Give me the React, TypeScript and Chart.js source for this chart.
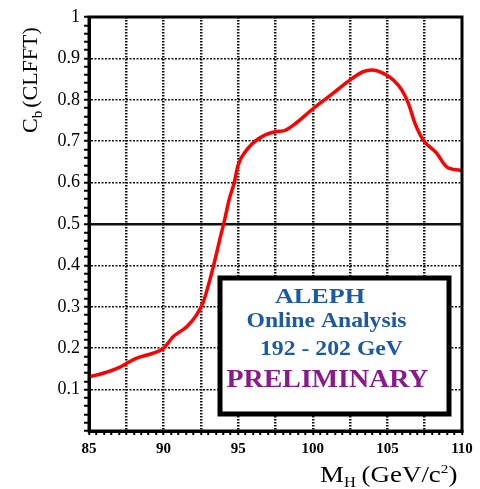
import React, { useEffect, useRef } from 'react';
import { Chart, registerables } from 'chart.js';

Chart.register(...registerables);

// Higgs mass hypothesis (GeV/c^2)
const massGeV = [85, 86, 87, 87.5, 88.2, 89.3, 90, 90.65, 91.55, 92.2, 92.66, 93.1, 93.44, 93.78, 94.12, 94.4, 94.72, 95.0, 95.57, 96.24, 97.47, 98.03, 98.7, 100.03, 101.37, 102.5, 103.38, 103.95, 104.73, 105.4, 105.96, 106.4, 106.85, 107.4, 108.3, 108.97, 109.87, 110];
// C_b (CLFFT)
const clfft = [0.131, 0.14, 0.153, 0.163, 0.176, 0.188, 0.2, 0.228, 0.252, 0.28, 0.312, 0.365, 0.413, 0.465, 0.515, 0.56, 0.598, 0.643, 0.679, 0.703, 0.723, 0.725, 0.739, 0.779, 0.816, 0.848, 0.868, 0.872, 0.864, 0.848, 0.824, 0.792, 0.743, 0.703, 0.671, 0.638, 0.63, 0.629];

const xMin = 85;
const xMax = 110;
const xLabelStep = 5;
const xGridStep = 2.5;
const xMinorStep = 0.5;
const yMin = 0;
const yMax = 1;
const yLabelStep = 0.1;
const yMinorStep = 0.02;
const solidLineValue = 0.5;

const boxLines = ['ALEPH', 'Online Analysis', '192 - 202 GeV', 'PRELIMINARY'];

const SERIF = '"Liberation Serif", "Times New Roman", "DejaVu Serif", serif';

const isMultiple = (v: number, step: number) => Math.abs(v / step - Math.round(v / step)) < 1e-6;

const decorPlugin = {
  id: 'decor',
  afterDatasetsDraw(chart: any) {
    const { ctx, chartArea: a } = chart;
    ctx.save();
    // Annotation box
    const bx = 220, by = 278, bw = 229, bh = 136;
    ctx.fillStyle = '#ffffff';
    ctx.fillRect(bx, by, bw, bh);
    ctx.strokeStyle = '#000';
    ctx.lineWidth = 5;
    ctx.strokeRect(bx, by, bw, bh);

    const drawStretched = (text: string, font: string, color: string, cx: number, baseY: number, targetW: number) => {
      ctx.font = font;
      ctx.fillStyle = color;
      const w = ctx.measureText(text).width;
      const sx = targetW / w;
      ctx.save();
      ctx.translate(cx, baseY);
      ctx.scale(sx, 1);
      ctx.textAlign = 'center';
      ctx.textBaseline = 'alphabetic';
      ctx.fillText(text, 0, 0);
      ctx.restore();
    };
    const blue = '#1c5aa6';
    const purple = '#8a1a8c';
    drawStretched(boxLines[0], `bold 22px ${SERIF}`, blue, 320, 303, 90);
    drawStretched(boxLines[1], `bold 21px ${SERIF}`, blue, 326.5, 326.5, 160);
    drawStretched(boxLines[2], `bold 21px ${SERIF}`, blue, 331.5, 355, 143);
    drawStretched(boxLines[3], `bold 25px ${SERIF}`, purple, 327.5, 386.5, 202);

    // Frame
    ctx.strokeStyle = '#000';
    ctx.lineWidth = 3;
    ctx.strokeRect(a.left, a.top, a.right - a.left, a.bottom - a.top);
    ctx.restore();
  },
  afterDraw(chart: any) {
    const { ctx } = chart;
    ctx.save();
    ctx.fillStyle = '#000';
    ctx.textAlign = 'left';
    ctx.textBaseline = 'alphabetic';
    // Y title: C_b (CLFFT)
    ctx.save();
    ctx.translate(37, 133);
    ctx.rotate(-Math.PI / 2);
    ctx.font = `22px ${SERIF}`;
    let x = 0;
    ctx.fillText('C', x, 0);
    x += ctx.measureText('C').width;
    ctx.font = `15px ${SERIF}`;
    ctx.fillText('b', x, 5);
    x += ctx.measureText('b').width + 3;
    ctx.font = `22px ${SERIF}`;
    ctx.fillText('(CLFFT)', x, 0);
    ctx.restore();

    // X title: M_H (GeV/c^2)
    ctx.save();
    ctx.translate(320, 482);
    ctx.scale(1.17, 1);
    ctx.font = `23px ${SERIF}`;
    x = 0;
    ctx.fillText('M', x, 0);
    x += ctx.measureText('M').width;
    ctx.font = `14px ${SERIF}`;
    ctx.fillText('H', x, 5);
    x += ctx.measureText('H').width + 5;
    ctx.font = `23px ${SERIF}`;
    ctx.fillText('(GeV/c', x, 0);
    x += ctx.measureText('(GeV/c').width;
    ctx.font = `13px ${SERIF}`;
    ctx.fillText('2', x, -9);
    x += ctx.measureText('2').width;
    ctx.font = `23px ${SERIF}`;
    ctx.fillText(')', x, 0);
    ctx.restore();
    ctx.restore();
  },
};

export default function App() {
  const ref = useRef<HTMLCanvasElement>(null);
  useEffect(() => {
    document.body.style.margin = '0';
    const chart = new Chart(ref.current as HTMLCanvasElement, {
      type: 'line',
      data: {
        datasets: [
          {
            data: massGeV.map((m, i) => ({ x: m, y: clfft[i] })),
            borderColor: '#ff0000',
            borderWidth: 3.5,
            pointRadius: 0,
            cubicInterpolationMode: 'monotone',
            fill: false,
          },
        ],
      },
      options: {
        animation: false,
        responsive: false,
        maintainAspectRatio: false,
        layout: { padding: { left: 0, top: 17, right: 18, bottom: 0 } },
        plugins: { legend: { display: false }, tooltip: { enabled: false } },
        scales: {
          x: {
            type: 'linear',
            min: xMin,
            max: xMax,
            afterBuildTicks: (s: any) => {
              const t = [];
              const n = Math.round((xMax - xMin) / xMinorStep);
              for (let i = 0; i <= n; i++) t.push({ value: Math.round((xMin + i * xMinorStep) * 100) / 100 });
              s.ticks = t;
            },
            afterFit: (s: any) => {
              s.height = 58;
            },
            ticks: {
              autoSkip: false,
              maxRotation: 0,
              padding: 5,
              color: '#000',
              font: { family: SERIF, size: 15, weight: 'bold' },
              callback: (v: any) => (isMultiple(Number(v), xLabelStep) ? String(v) : ''),
            },
            grid: {
              color: (c: any) => {
                const v = c.tick ? c.tick.value : 0;
                return isMultiple(v, xGridStep) && v > xMin && v < xMax ? '#111' : 'rgba(0,0,0,0)';
              },
              lineWidth: 2.5,
              tickLength: 4,
              tickColor: '#000',
              tickWidth: 2,
            },
            border: {
              display: true,
              color: '#000',
              width: 3,
              dash: (c: any) => (c.tick ? [1.5, 1.5] : []),
            },
          },
          y: {
            type: 'linear',
            min: yMin,
            max: yMax,
            afterBuildTicks: (s: any) => {
              const t = [];
              const n = Math.round((yMax - yMin) / yMinorStep);
              for (let i = 0; i <= n; i++) t.push({ value: Math.round((yMin + i * yMinorStep) * 100) / 100 });
              s.ticks = t;
            },
            afterFit: (s: any) => {
              s.width = 89;
            },
            ticks: {
              autoSkip: false,
              padding: 4,
              color: '#000',
              font: { family: SERIF, size: 18 },
              callback: (v: any) => {
                const n = Number(v);
                if (n <= 0 || !isMultiple(n, yLabelStep)) return '';
                return n === 1 ? '1' : n.toFixed(1);
              },
            },
            grid: {
              color: (c: any) => {
                const v = c.tick ? c.tick.value : 0;
                return isMultiple(v, yLabelStep) && v > yMin && v < yMax ? '#111' : 'rgba(0,0,0,0)';
              },
              lineWidth: (c: any) => (c.tick && Math.abs(c.tick.value - solidLineValue) < 1e-6 ? 2.5 : 1.5),
              tickLength: 5,
              tickColor: '#000',
              tickWidth: 2,
            },
            border: {
              display: true,
              color: '#000',
              width: 3,
              dash: (c: any) => {
                if (!c.tick) return [];
                return Math.abs(c.tick.value - solidLineValue) < 1e-6 ? [] : [2, 1.5];
              },
            },
          },
        },
      },
      plugins: [decorPlugin],
    } as any);
    return () => chart.destroy();
  }, []);
  return <canvas ref={ref} width={480} height={489} style={{ display: 'block' }} />;
}
